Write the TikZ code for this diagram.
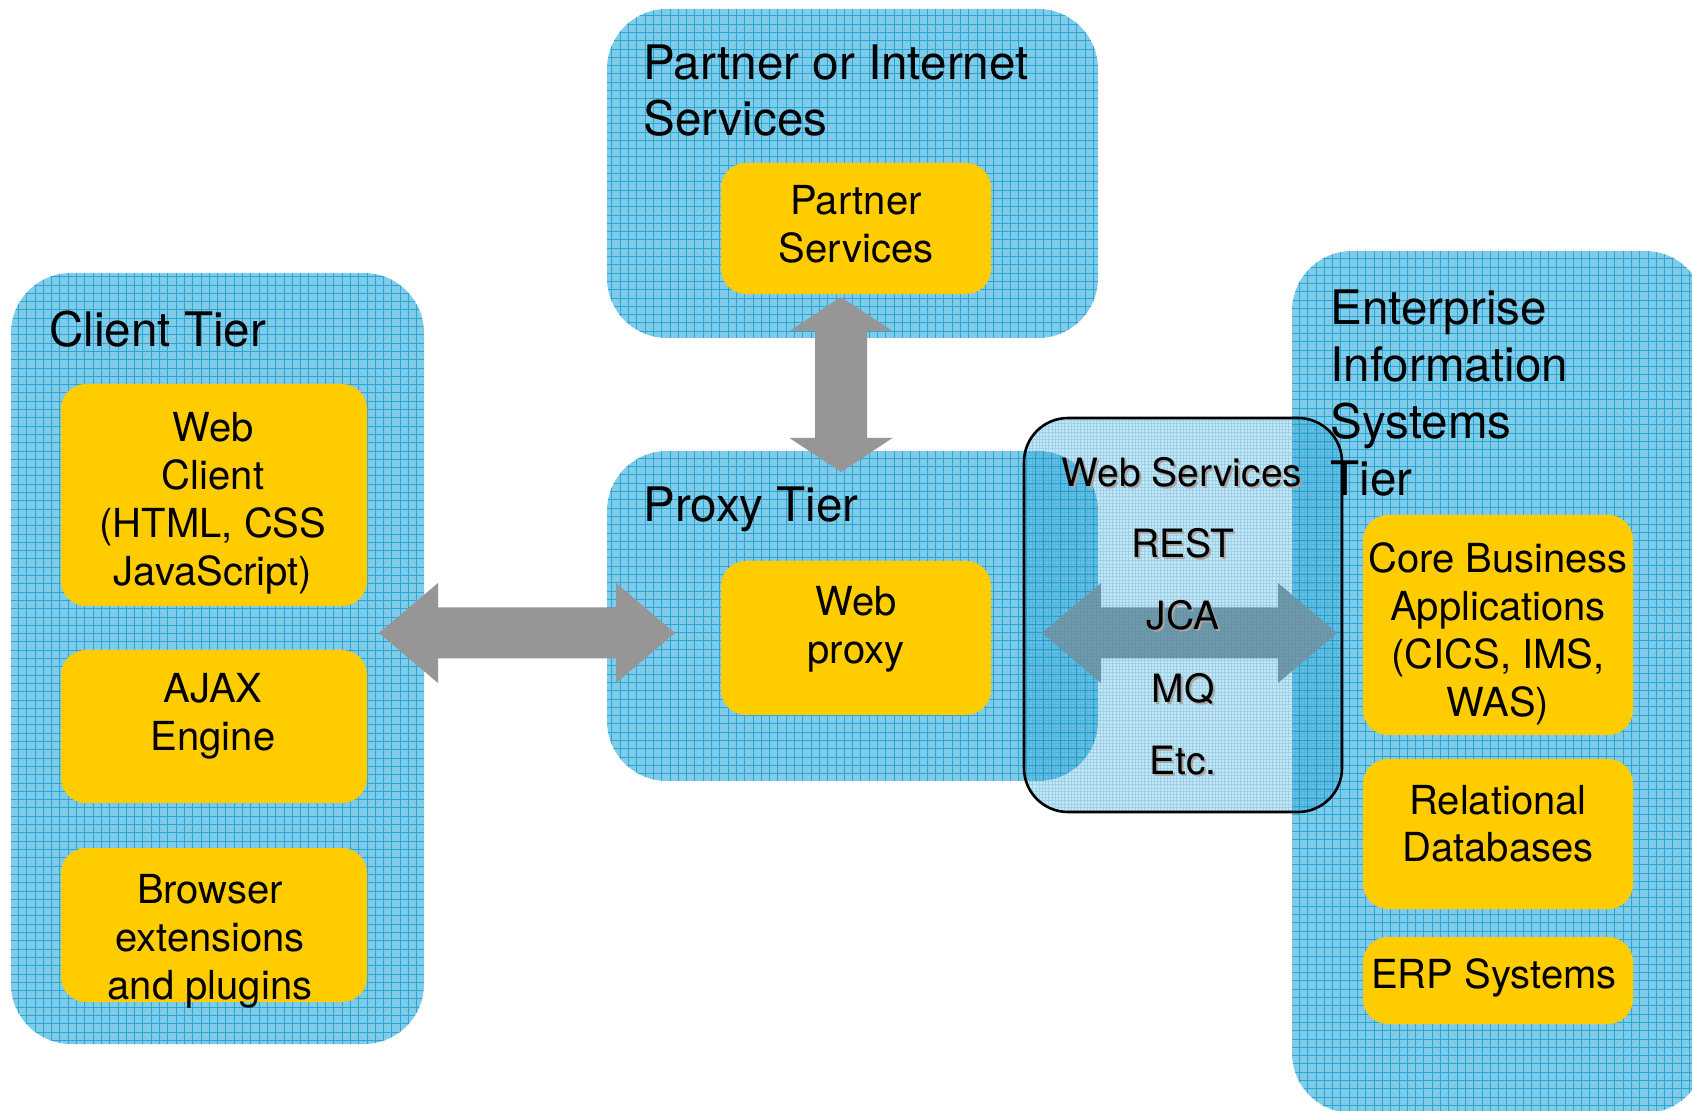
\documentclass[tikz,border=0pt]{standalone}
\usepackage{fontspec}
\setmainfont{TeX Gyre Heros}
\usetikzlibrary{calc}

\definecolor{tierblue}{RGB}{128,204,232}
\definecolor{gridblue}{RGB}{42,166,214}
\definecolor{compyellow}{RGB}{255,204,0}
\definecolor{arrowgray}{RGB}{150,150,150}
\definecolor{wsblue}{RGB}{25,150,205}
\definecolor{shadowgray}{RGB}{165,165,165}

% text with a soft grey drop shadow
\newcommand\shadowtxt[1]{\leavevmode\rlap{\kern1pt\raisebox{-1pt}{\color{shadowgray}#1}}#1}

% fat double-headed block arrows between two named tips
% #1 left tip, #2 right tip, #3 head length
\newcommand\hblockarrow[3]{%
  \fill[blockarrow] (#1) -- ($(#1)+(#3,-50)$) -- ($(#1)+(#3,-25.5)$)
    -- ($(#2)+(-#3,-25.5)$) -- ($(#2)+(-#3,-50)$) -- (#2)
    -- ($(#2)+(-#3,50)$) -- ($(#2)+(-#3,25.5)$)
    -- ($(#1)+(#3,25.5)$) -- ($(#1)+(#3,50)$) -- cycle;}
% #1 top tip, #2 bottom tip, #3 head length
\newcommand\vblockarrow[3]{%
  \fill[blockarrow] (#1) -- ($(#1)+(51.5,#3)$) -- ($(#1)+(26,#3)$)
    -- ($(#2)+(26,-#3)$) -- ($(#2)+(51.5,-#3)$) -- (#2)
    -- ($(#2)+(-51.5,-#3)$) -- ($(#2)+(-26,-#3)$)
    -- ($(#1)+(-26,#3)$) -- ($(#1)+(-51.5,#3)$) -- cycle;}

\tikzset{
  tier/.style={rectangle, rounded corners=30pt, fill=tierblue, inner sep=0pt,
    path picture={\draw[gridblue, line width=0.4pt]
      (path picture bounding box.south west) grid[step=4.15pt]
      (path picture bounding box.north east);}},
  comp/.style={rectangle, rounded corners=12.5pt, fill=compyellow, inner sep=0pt},
  wsbox/.style={rectangle, rounded corners=22pt, draw=black, line width=1.3pt,
    fill=wsblue, fill opacity=0.24, inner sep=0pt,
    path picture={\draw[wsblue, line width=0.25pt, opacity=0.25]
      (path picture bounding box.south west) grid[step=1.6pt]
      (path picture bounding box.north east);}},
  blockarrow/.style={fill=arrowgray},
  titletxt/.style={inner sep=0pt, anchor=base west, font=\fontsize{23.8}{28}\selectfont},
  comptxt/.style={inner sep=0pt, anchor=base, font=\fontsize{20}{24}\selectfont},
  wstxt/.style={inner sep=0pt, anchor=base, font=\fontsize{19.5}{24}\selectfont},
}

\begin{document}
\begin{tikzpicture}[x=0.5pt, y=-0.5pt]
\useasboundingbox (0,0) rectangle (1692,1111);
\clip (0,0) rectangle (1692,1111);

% tiers
\node[tier, minimum width=206.5pt, minimum height=385.5pt] (client) at (217.5,658.5) {};
\node[tier, minimum width=245.5pt, minimum height=164.5pt] (partner) at (852.5,173.5) {};
\node[tier, minimum width=245.5pt, minimum height=165pt] (proxy) at (852.5,616) {};
\node[tier, minimum width=206.5pt, minimum height=431pt] (eis) at (1498.5,682) {};

% components
\node[comp, minimum width=135pt, minimum height=65.5pt] (psvc) at (856,228.5) {};
\node[comp, minimum width=135pt, minimum height=77pt] (wproxy) at (856,638) {};
\node[comp, minimum width=153pt, minimum height=111pt] (wclient) at (214,495) {};
\node[comp, minimum width=153pt, minimum height=76.5pt] (ajax) at (214,726.5) {};
\node[comp, minimum width=153pt, minimum height=77pt] (browser) at (214,925) {};
\node[comp, minimum width=135pt, minimum height=110pt] (core) at (1498,625) {};
\node[comp, minimum width=135pt, minimum height=75pt] (rdb) at (1498,834) {};
\node[comp, minimum width=135pt, minimum height=43.5pt] (erp) at (1498,980.5) {};

% tier titles
\node[titletxt] (partnert) at (643,80) {\begin{tabular}[t]{@{}l@{}}Partner or Internet\\Services\end{tabular}};
\node[titletxt] (proxyt) at (643,522) {Proxy Tier};
\node[titletxt] (clientt) at (49,347) {Client Tier};

% component labels
\node[comptxt] (psvct) at (856,215) {\begin{tabular}[t]{@{}c@{}}Partner\\Services\end{tabular}};
\node[comptxt] (wproxyt) at (856,616) {\begin{tabular}[t]{@{}c@{}}Web\\proxy\end{tabular}};
\node[comptxt] (wclientt) at (213,442) {\begin{tabular}[t]{@{}c@{}}Web\\Client\\(HTML, CSS\\JavaScript)\end{tabular}};
\node[comptxt] (ajaxt) at (213,703) {\begin{tabular}[t]{@{}c@{}}AJAX\\Engine\end{tabular}};
\node[comptxt] (browsert) at (210,903) {\begin{tabular}[t]{@{}c@{}}Browser\\extensions\\and plugins\end{tabular}};
\node[comptxt] (coret) at (1498,573) {\begin{tabular}[t]{@{}c@{}}Core Business\\Applications\\(CICS, IMS,\\WAS)\end{tabular}};
\node[comptxt] (rdbt) at (1498,814) {\begin{tabular}[t]{@{}c@{}}Relational\\Databases\end{tabular}};
\node[comptxt] (erpt) at (1494,988) {ERP Systems};

% connectors
\coordinate (cl) at (379,633);
\coordinate (cr) at (675,633);
\coordinate (vt) at (841,297);
\coordinate (vb) at (841,472);
\coordinate (ml) at (1042,633);
\coordinate (mr) at (1337,633);
\hblockarrow{cl}{cr}{59}
\vblockarrow{vt}{vb}{34}
\hblockarrow{ml}{mr}{59}

% integration protocols panel
\node[wsbox, minimum width=159pt, minimum height=197pt] (ws) at (1183,615) {};
\node[wstxt] (wst1) at (1182,487) {\shadowtxt{Web Services}};
\node[wstxt] (wst2) at (1183,558) {\shadowtxt{REST}};
\node[wstxt] (wst3) at (1183,630) {\shadowtxt{JCA}};
\node[wstxt] (wst4) at (1183,703) {\shadowtxt{MQ}};
\node[wstxt] (wst5) at (1183,775) {\shadowtxt{Etc.}};

\node[titletxt, font=\fontsize{23.8}{28.5}\selectfont] (eist) at (1330,325)
  {\begin{tabular}[t]{@{}l@{}}Enterprise\\Information\\Systems\\Tier\end{tabular}};
\end{tikzpicture}
\end{document}
